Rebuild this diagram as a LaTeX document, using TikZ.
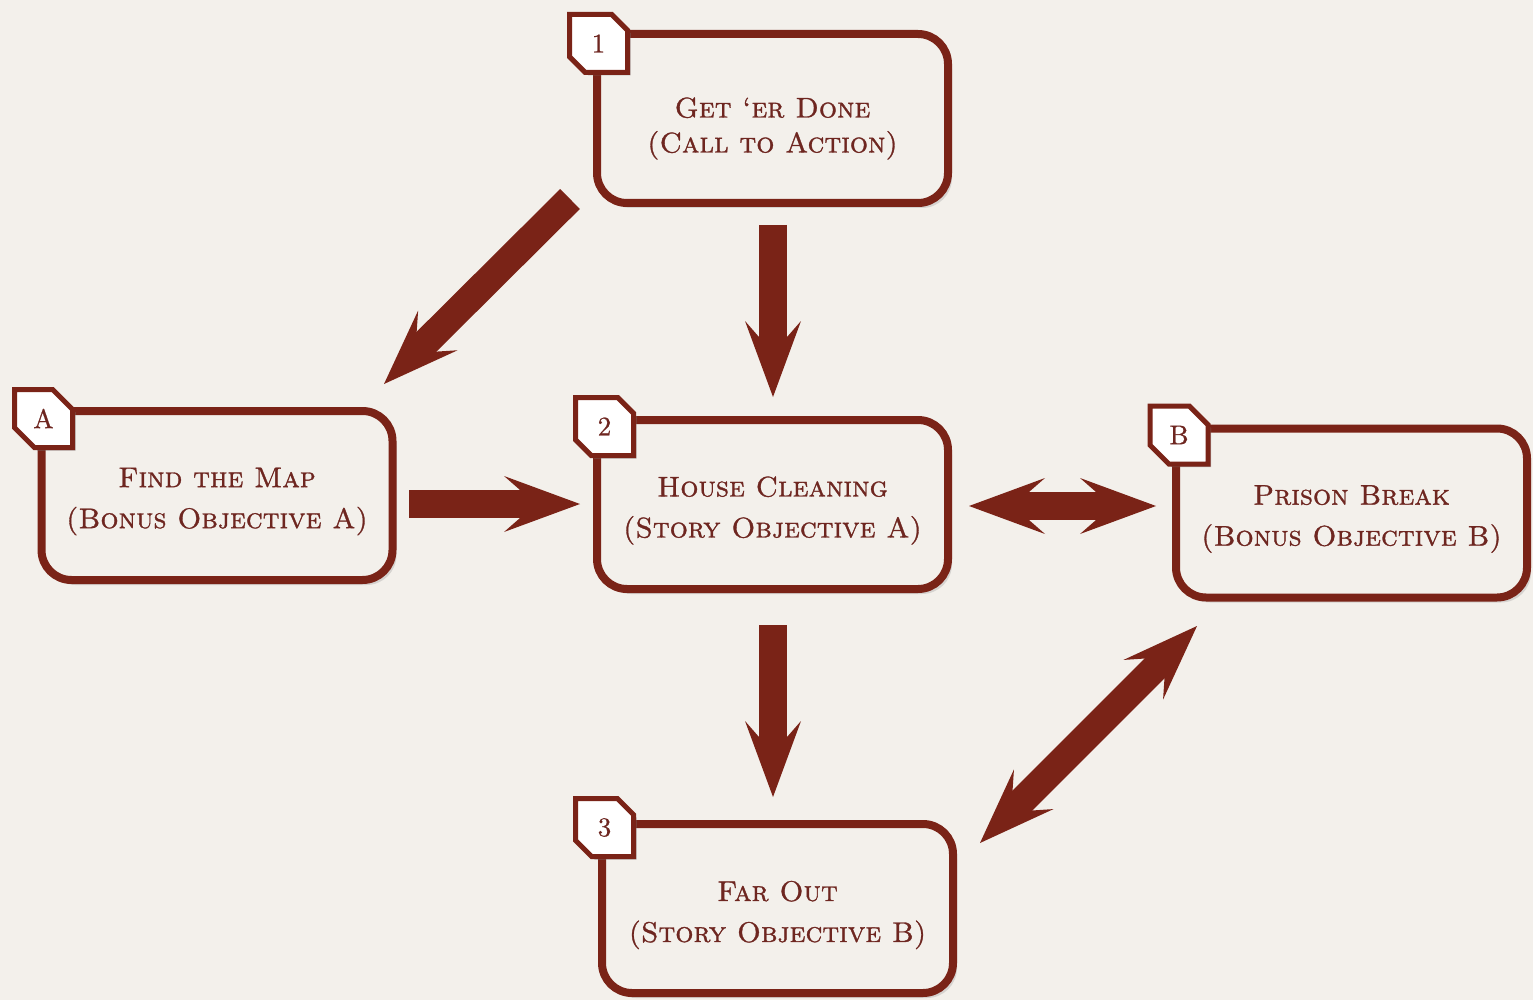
\documentclass[tikz,border=0pt]{standalone}
\usepackage{fontspec}
\usetikzlibrary{arrows.meta,shapes.misc,shadows}
\definecolor{bg}{HTML}{F3F0EB}
\definecolor{wine}{HTML}{7A2317}
\definecolor{txt}{HTML}{6E2620}
\newfontfamily\capsfam{lmromancaps10-regular.otf}[FakeBold=1.1, Ligatures=TeX]
\newfontfamily\tagfam{lmroman10-regular.otf}[FakeBold=0.8, Ligatures=TeX]
\newcommand\boxfont{\capsfam\fontsize{28.5}{41}\selectfont}
\tikzset{
  box/.style={draw=wine, line width=8pt, rounded corners=30pt, fill=bg,
    minimum width=351pt, minimum height=169pt,
    drop shadow={opacity=0.25, shadow xshift=4pt, shadow yshift=-5pt}},
  boxtext/.style={align=center, text=txt, font=\boxfont, inner sep=0pt},
  tagbox/.style={chamfered rectangle, chamfered rectangle corners={north east, south west},
    chamfered rectangle xsep=12pt, chamfered rectangle ysep=12pt,
    draw=wine, line width=5pt, fill=white, minimum width=58pt, minimum height=58pt,
    inner sep=0pt, text=txt, font=\tagfam\fontsize{27}{30}\selectfont,
    drop shadow={opacity=0.5, shadow xshift=3pt, shadow yshift=-3pt}},
  barb/.tip={Stealth[length=76pt, width=56pt, inset=32pt, line width=0pt]},
  barrow/.style={draw=wine, line width=28pt, -barb},
  dbarrow/.style={draw=wine, line width=28pt, barb-barb},
}
\begin{document}
\begin{tikzpicture}[x=1pt,y=-1pt]
\useasboundingbox[fill=bg] (0,0) rectangle (1533,1000);
% boxes
\node[box] (n1) at (772.5,118.5) {};
\node[box] (nA) at (217,495.5) {};
\node[box] (n2) at (772.5,504.5) {};
\node[box] (nB) at (1351.5,513) {};
\node[box] (n3) at (777.5,908.5) {};
% texts
\node[boxtext, font=\capsfam\fontsize{28.5}{35}\selectfont] (l1) at ([yshift=-10pt]n1.center) {Get ‘er Done\\(Call to Action)};
\node[boxtext] (lA) at ([yshift=-6pt]nA.center) {Find the Map\\(Bonus Objective A)};
\node[boxtext] (l2) at ([yshift=-6pt]n2.center) {House Cleaning\\(Story Objective A)};
\node[boxtext] (lB) at ([yshift=-6pt]nB.center) {Prison Break\\(Bonus Objective B)};
\node[boxtext] (l3) at ([yshift=-6.5pt]n3.center) {Far Out\\(Story Objective B)};
% tags
\node[tagbox] (t1) at (598.5,43.5) {1};
\node[tagbox] (tA) at (43.5,418.5) {A};
\node[tagbox] (t2) at (604.5,426.5) {2};
\node[tagbox] (tB) at (1179,435) {B};
\node[tagbox] (t3) at (604.5,827.5) {3};
% arrow end points
\coordinate (a1s) at (570,199);  \coordinate (a1e) at (384,384);
\coordinate (a2s) at (773,225);  \coordinate (a2e) at (773,397);
\coordinate (a3s) at (409,504);  \coordinate (a3e) at (580,504);
\coordinate (a4s) at (969,506);  \coordinate (a4e) at (1156,506);
\coordinate (a5s) at (773,625);  \coordinate (a5e) at (773,797);
\coordinate (a6s) at (1197,626); \coordinate (a6e) at (980,843);
\draw[barrow] (a1s) -- (a1e);
\draw[barrow] (a2s) -- (a2e);
\draw[barrow] (a3s) -- (a3e);
\draw[dbarrow] (a4s) -- (a4e);
\draw[barrow] (a5s) -- (a5e);
\draw[dbarrow] (a6s) -- (a6e);
\end{tikzpicture}
\end{document}
